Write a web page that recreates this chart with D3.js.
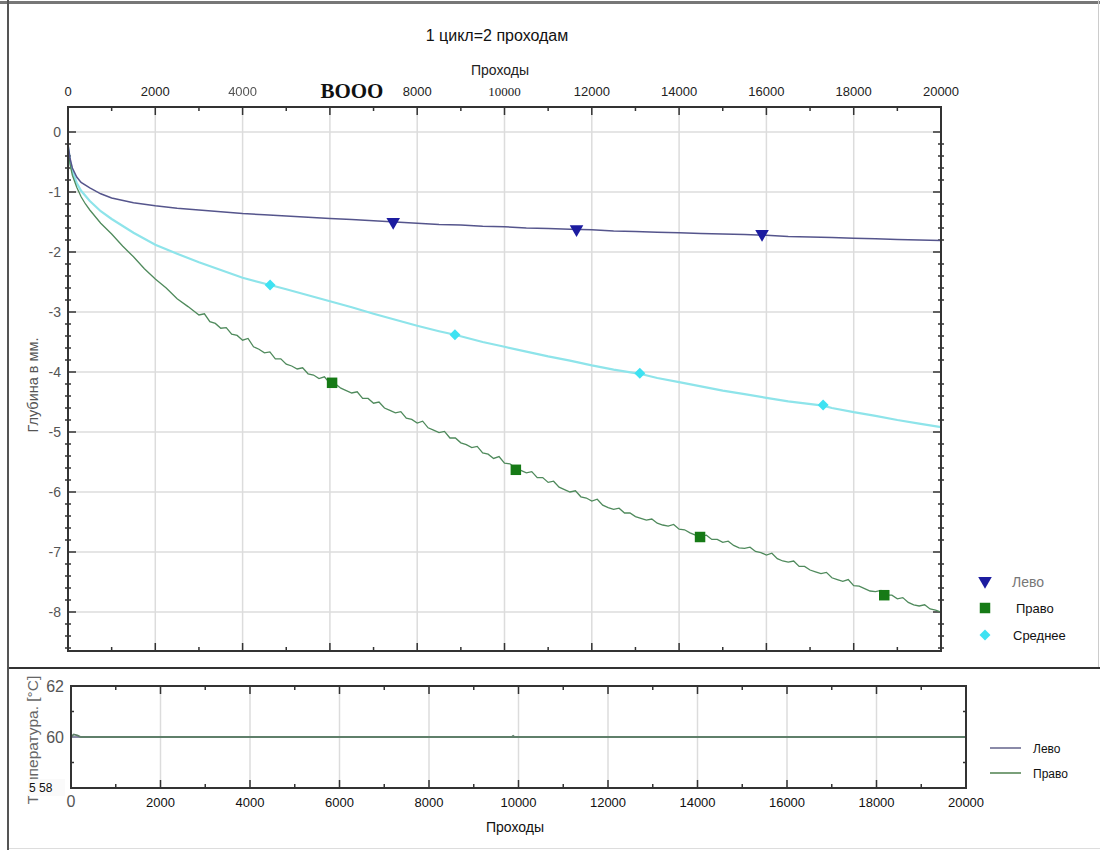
<!DOCTYPE html>
<html><head><meta charset="utf-8">
<script src="https://cdn.jsdelivr.net/npm/d3@7"></script>
<style>body{margin:0;background:#fff}svg{display:block}</style>
</head><body>
<svg id="c" width="1100" height="850"></svg>
<script>
// ---------- DATA ----------
const title = "1 цикл=2 проходам";
const xLabel = "Проходы";
const yLabelDepth = "Глубина в мм.";
const yLabelTemp = "Температура. [°C]";
const seriesNames = ["Лево", "Право", "Среднее"];
const topTickValues = [0,2000,4000,6000,8000,10000,12000,14000,16000,18000,20000];
const topTickLabels = ["0","2000","4000","BOOO","8000","10000","12000","14000","16000","18000","20000"];
const depthTicks = [0,-1,-2,-3,-4,-5,-6,-7,-8];
const tempTicks = [62,60];
const tempTickLabels = ["62","60"];
const tempBottomLabel = "5 58";
const bottomTickValues = [0,2000,4000,6000,8000,10000,12000,14000,16000,18000,20000];

const levo = [[0,-0.2],[50,-0.45],[100,-0.6],[200,-0.75],[300,-0.84],[500,-0.93],[750,-1.03],[1000,-1.1],[1500,-1.18],[2000,-1.23],[2500,-1.27],[3000,-1.3],[3500,-1.33],[4000,-1.36],[4500,-1.38],[5000,-1.4],[5500,-1.42],[6000,-1.44],[6500,-1.46],[7000,-1.48],[7500,-1.5],[8000,-1.52],[8500,-1.54],[9000,-1.55],[9500,-1.57],[10000,-1.58],[10500,-1.6],[11000,-1.61],[11500,-1.62],[12000,-1.63],[12500,-1.65],[13000,-1.66],[13500,-1.67],[14000,-1.68],[14500,-1.69],[15000,-1.7],[15500,-1.71],[16000,-1.72],[16500,-1.74],[17000,-1.75],[17500,-1.76],[18000,-1.77],[18500,-1.78],[19000,-1.79],[19500,-1.8],[20000,-1.81]];
const pravo = [[0,-0.25],[50,-0.55],[100,-0.72],[200,-0.92],[300,-1.08],[400,-1.2],[500,-1.3],[750,-1.52],[1000,-1.7],[1250,-1.9],[1500,-2.08],[1750,-2.28],[2000,-2.45],[2250,-2.6],[2500,-2.78],[2750,-2.91],[3000,-3.05],
[3125,-3.03],[3250,-3.16],[3375,-3.19],[3500,-3.27],[3625,-3.26],[3750,-3.37],[3875,-3.39],[4000,-3.47],[4125,-3.44],[4250,-3.58],[4375,-3.62],[4500,-3.68],[4625,-3.665],[4750,-3.78],[4875,-3.78],[5000,-3.87],[5125,-3.9],[5250,-3.95],[5375,-3.93],[5500,-4.03],[5625,-4.05],[5750,-4.11],[5875,-4.08],[6000,-4.19],[6125,-4.2],[6250,-4.27],[6375,-4.31],[6500,-4.35],[6625,-4.33],[6750,-4.44],[6875,-4.44],[7000,-4.52],[7125,-4.5],[7250,-4.6],[7375,-4.64],[7500,-4.68],[7625,-4.66],[7750,-4.77],[7875,-4.79],[8000,-4.85],[8125,-4.82],[8250,-4.93],[8375,-4.97],[8500,-5.01],[8625,-4.99],[8750,-5.1],[8875,-5.1],[9000,-5.18],[9125,-5.21],[9250,-5.26],[9375,-5.24],[9500,-5.35],[9625,-5.37],[9750,-5.44],[9875,-5.41],[10000,-5.52],[10125,-5.53],[10250,-5.6],[10375,-5.64],[10500,-5.68],[10625,-5.66],[10750,-5.76],[10875,-5.76],[11000,-5.84],[11125,-5.82],[11250,-5.92],[11375,-5.96],[11500,-6.0],[11625,-5.98],[11750,-6.08],[11875,-6.1],[12000,-6.15],[12125,-6.12],[12250,-6.22],[12375,-6.26],[12500,-6.29],[12625,-6.27],[12750,-6.35],[12875,-6.35],[13000,-6.41],[13125,-6.44],[13250,-6.47],[13375,-6.45],[13500,-6.52],[13625,-6.55],[13750,-6.57],[13875,-6.54],[14000,-6.62],[14125,-6.63],[14250,-6.68],[14375,-6.72],[14500,-6.74],[14625,-6.72],[14750,-6.79],[14875,-6.79],[15000,-6.84],[15125,-6.82],[15250,-6.89],[15375,-6.93],[15500,-6.94],[15625,-6.92],[15750,-6.99],[15875,-7.01],[16000,-7.05],[16125,-7.02],[16250,-7.11],[16375,-7.15],[16500,-7.17],[16625,-7.15],[16750,-7.24],[16875,-7.24],[17000,-7.3],[17125,-7.33],[17250,-7.36],[17375,-7.34],[17500,-7.43],[17625,-7.46],[17750,-7.49],[17875,-7.46],[18000,-7.56],[18125,-7.57],[18250,-7.61],[18375,-7.65],[18500,-7.66],[18625,-7.64],[18750,-7.72],[18875,-7.72],[19000,-7.78],[19125,-7.76],[19250,-7.84],[19375,-7.88],[19500,-7.9],[19625,-7.88],[19750,-7.95],[19875,-7.97],[20000,-8.0]];
const srednee = [[0,-0.25],[50,-0.5],[100,-0.65],[200,-0.85],[300,-0.98],[500,-1.15],[750,-1.32],[1000,-1.45],[1500,-1.68],[2000,-1.88],[2500,-2.03],[3000,-2.17],[3500,-2.3],[4000,-2.43],[4630,-2.55],[5000,-2.62],[5500,-2.72],[6000,-2.82],[6500,-2.92],[7000,-3.03],[7500,-3.13],[8000,-3.23],[8500,-3.32],[8865,-3.38],[9500,-3.5],[10000,-3.58],[10500,-3.66],[11000,-3.74],[11500,-3.81],[12000,-3.89],[12500,-3.96],[13100,-4.03],[13500,-4.1],[14000,-4.17],[14500,-4.24],[15000,-4.31],[15500,-4.37],[16000,-4.43],[16500,-4.49],[17300,-4.56],[17500,-4.6],[18000,-4.67],[18500,-4.73],[19000,-4.8],[19500,-4.86],[20000,-4.92]];
const levoMarkers = [[7450,-1.5],[11650,-1.62],[15900,-1.7]];
const pravoMarkers = [[6050,-4.18],[10260,-5.63],[14480,-6.75],[18700,-7.72]];
const sredneeMarkers = [[4630,-2.55],[8865,-3.38],[13100,-4.02],[17300,-4.55]];
const tempLevo = [[0,60],[20000,60]];
const tempPravo = [[0,60],[60,60.1],[140,60.06],[220,60],[9850,60],[9880,60.04],[9910,60],[20000,60]];

// ---------- DRAW ----------
const svg = d3.select("#c");
const F = "'Liberation Sans', Arial, sans-serif";
const FN = "'Liberation Sans Narrow', 'Liberation Sans', Arial, sans-serif";
const FS = "'Liberation Serif', 'DejaVu Serif', serif";

const x = d3.scaleLinear().domain([0,20000]).range([68,941]);
const y = d3.scaleLinear().domain([0,-8]).range([132,612]);

// frame
svg.append("line").attr("x1",0).attr("x2",1100).attr("y1",2.5).attr("y2",2.5).attr("stroke","#777").attr("stroke-width",3);
svg.append("line").attr("x1",1098.5).attr("x2",1098.5).attr("y1",0).attr("y2",668).attr("stroke","#ccc").attr("stroke-width",1);
svg.append("line").attr("x1",8).attr("x2",1100).attr("y1",848.5).attr("y2",848.5).attr("stroke","#ddd").attr("stroke-width",1);

svg.append("text").attr("x",497).attr("y",41).attr("text-anchor","middle").attr("font-family",F).attr("font-size",16).attr("fill","#111").text(title);
svg.append("text").attr("x",500).attr("y",75).attr("text-anchor","middle").attr("font-family",FN).attr("font-size",14).attr("fill","#222").text(xLabel);

const topG = svg.append("g");
topTickValues.forEach((v,i)=>{
  const lab = topTickLabels[i];
  const t = topG.append("text").attr("x",x(v)).attr("y",96).attr("text-anchor","middle").attr("fill","#222").text(lab);
  if(lab==="BOOO"){ t.attr("x",x(v)+22).attr("y",98).attr("font-family",FS).attr("font-weight","bold").attr("font-size",21).attr("fill","#111"); }
  else if(lab==="10000"){ t.attr("font-family",FS).attr("font-size",13); }
  else if(i===2){ t.attr("font-family",FN).attr("font-size",13).attr("fill","#555").style("filter","blur(0.7px)"); }
  else { t.attr("font-family",FN).attr("font-size",13); }
});

const g = svg.append("g");
topTickValues.slice(1,-1).forEach(v=>{
  g.append("line").attr("x1",x(v)).attr("x2",x(v)).attr("y1",107).attr("y2",651).attr("stroke","#dcdcdc").attr("stroke-width",1.5);
});
depthTicks.forEach(v=>{
  g.append("line").attr("x1",68).attr("x2",941).attr("y1",y(v)).attr("y2",y(v)).attr("stroke","#dcdcdc").attr("stroke-width",1.5);
});

const tk = svg.append("g").attr("stroke","#333").attr("stroke-width",1.5);
d3.range(0,20001,1000).forEach(v=>{
  const L = (v%2000===0)?8:4;
  tk.append("line").attr("x1",x(v)).attr("x2",x(v)).attr("y1",107).attr("y2",107+L);
  tk.append("line").attr("x1",x(v)).attr("x2",x(v)).attr("y1",651).attr("y2",651-L);
});
d3.range(0,-8.61,-0.2).forEach(v=>{
  const major = Math.abs(v-Math.round(v))<1e-6;
  const yy = y(v);
  if(major){
    tk.append("line").attr("x1",68).attr("x2",76).attr("y1",yy).attr("y2",yy);
    tk.append("line").attr("x1",941).attr("x2",933).attr("y1",yy).attr("y2",yy);
  } else {
    tk.append("line").attr("x1",65).attr("x2",71).attr("y1",yy).attr("y2",yy);
    tk.append("line").attr("x1",938).attr("x2",944).attr("y1",yy).attr("y2",yy);
  }
});

depthTicks.forEach(v=>{
  svg.append("text").attr("x",61).attr("y",y(v)+5).attr("text-anchor","end").attr("font-family",F).attr("font-size",14).attr("fill","#555").text(v===0?"0":"-"+Math.abs(v));
});
svg.append("text").attr("transform","translate(38,385) rotate(-90)").attr("text-anchor","middle").attr("font-family",F).attr("font-size",14.5).attr("fill","#555").text(yLabelDepth);

const line = d3.line().x(d=>x(d[0])).y(d=>y(d[1]));
svg.append("path").datum(srednee).attr("d",line).attr("fill","none").attr("stroke","#8ee4ea").attr("stroke-width",2.2);
svg.append("path").datum(pravo).attr("d",line).attr("fill","none").attr("stroke","#4f8a5c").attr("stroke-width",1.3);
svg.append("path").datum(levo).attr("d",line).attr("fill","none").attr("stroke","#55558c").attr("stroke-width",1.5);

const tri = d3.symbol().type(d3.symbolTriangle).size(80)();
const sq = d3.symbol().type(d3.symbolSquare).size(110)();
const dia = d3.symbol().type(d3.symbolSquare).size(60)();
levoMarkers.forEach(d=>svg.append("path").attr("d",tri).attr("transform",`translate(${x(d[0])},${y(d[1])}) rotate(180)`).attr("fill","#1c1ca0"));
pravoMarkers.forEach(d=>svg.append("path").attr("d",sq).attr("transform",`translate(${x(d[0])},${y(d[1])})`).attr("fill","#167a16"));
sredneeMarkers.forEach(d=>svg.append("path").attr("d",dia).attr("transform",`translate(${x(d[0])},${y(d[1])}) rotate(45)`).attr("fill","#3ee2f2"));

svg.append("rect").attr("x",68).attr("y",107).attr("width",873).attr("height",544).attr("fill","none").attr("stroke","#333").attr("stroke-width",2);

const lg = svg.append("g");
lg.append("path").attr("d",tri).attr("transform","translate(985,581) rotate(180)").attr("fill","#1c1ca0");
lg.append("path").attr("d",sq).attr("transform","translate(985,608)").attr("fill","#167a16");
lg.append("path").attr("d",dia).attr("transform","translate(985,635) rotate(45)").attr("fill","#3ee2f2");
lg.append("text").attr("x",1012).attr("y",587).attr("font-family",F).attr("font-size",14).attr("fill","#777").text(seriesNames[0]);
lg.append("text").attr("x",1016).attr("y",613).attr("font-family",F).attr("font-size",13).attr("fill","#111").text(seriesNames[1]);
lg.append("text").attr("x",1013).attr("y",640).attr("font-family",F).attr("font-size",13).attr("fill","#111").text(seriesNames[2]);

// ---------- bottom panel ----------
const xb = d3.scaleLinear().domain([0,20000]).range([71,966]);
const yb = d3.scaleLinear().domain([58,62]).range([788,686]);

svg.append("text").attr("transform","translate(38,740) rotate(-90)").attr("text-anchor","middle").attr("font-family",F).attr("font-size",15.5).attr("fill","#666").text(yLabelTemp);

const gb = svg.append("g");
bottomTickValues.slice(1,-1).forEach(v=>{
  gb.append("line").attr("x1",xb(v)).attr("x2",xb(v)).attr("y1",686).attr("y2",788).attr("stroke","#dcdcdc").attr("stroke-width",1.5);
});
const tb = svg.append("g").attr("stroke","#333").attr("stroke-width",1.5);
d3.range(0,20001,1000).forEach(v=>{
  const L = (v%2000===0)?8:4;
  tb.append("line").attr("x1",xb(v)).attr("x2",xb(v)).attr("y1",686).attr("y2",686+L);
  tb.append("line").attr("x1",xb(v)).attr("x2",xb(v)).attr("y1",788).attr("y2",788-L);
});
[61,60,59].forEach(v=>{
  const L = v===60?6:3;
  tb.append("line").attr("x1",71).attr("x2",71+L).attr("y1",yb(v)).attr("y2",yb(v));
  tb.append("line").attr("x1",966).attr("x2",966-L).attr("y1",yb(v)).attr("y2",yb(v));
});

const lineB = d3.line().x(d=>xb(d[0])).y(d=>yb(d[1]));
svg.append("path").datum(tempLevo).attr("d",lineB).attr("fill","none").attr("stroke","#8a8aa8").attr("stroke-width",2);
svg.append("path").datum(tempPravo).attr("d",lineB).attr("fill","none").attr("stroke","#5f7f6a").attr("stroke-width",1.8);

svg.append("rect").attr("x",71).attr("y",686).attr("width",895).attr("height",102).attr("fill","none").attr("stroke","#333").attr("stroke-width",2);

tempTicks.forEach((v,i)=>{
  svg.append("text").attr("x",64).attr("y",yb(v)+6).attr("text-anchor","end").attr("font-family",F).attr("font-size",16).attr("fill","#555").text(tempTickLabels[i]);
});
svg.append("rect").attr("x",28).attr("y",779).attr("width",37).attr("height",17).attr("fill","#fafafa");
svg.append("text").attr("x",29).attr("y",792).attr("font-family",F).attr("font-size",12).attr("fill","#111").text(tempBottomLabel);

bottomTickValues.forEach(v=>{
  svg.append("text").attr("x",xb(v)).attr("y",807).attr("text-anchor","middle").attr("font-family",F).attr("font-size",v===0?16:13).attr("fill",v===0?"#555":"#111").text(String(v));
});
svg.append("text").attr("x",515).attr("y",832).attr("text-anchor","middle").attr("font-family",F).attr("font-size",14).attr("fill","#111").text(xLabel);

svg.append("line").attr("x1",990).attr("x2",1021).attr("y1",748).attr("y2",748).attr("stroke","#8a8aa8").attr("stroke-width",2);
svg.append("line").attr("x1",990).attr("x2",1021).attr("y1",773).attr("y2",773).attr("stroke","#7aa07a").attr("stroke-width",2);
svg.append("text").attr("x",1033).attr("y",753).attr("font-family",F).attr("font-size",12).attr("fill","#111").text(seriesNames[0]);
svg.append("text").attr("x",1033).attr("y",778).attr("font-family",F).attr("font-size",12).attr("fill","#111").text(seriesNames[1]);

svg.append("line").attr("x1",8).attr("x2",1100).attr("y1",668).attr("y2",668).attr("stroke","#333").attr("stroke-width",2);
svg.append("line").attr("x1",8).attr("x2",8).attr("y1",0).attr("y2",850).attr("stroke","#555").attr("stroke-width",2);
</script>
</body></html>
